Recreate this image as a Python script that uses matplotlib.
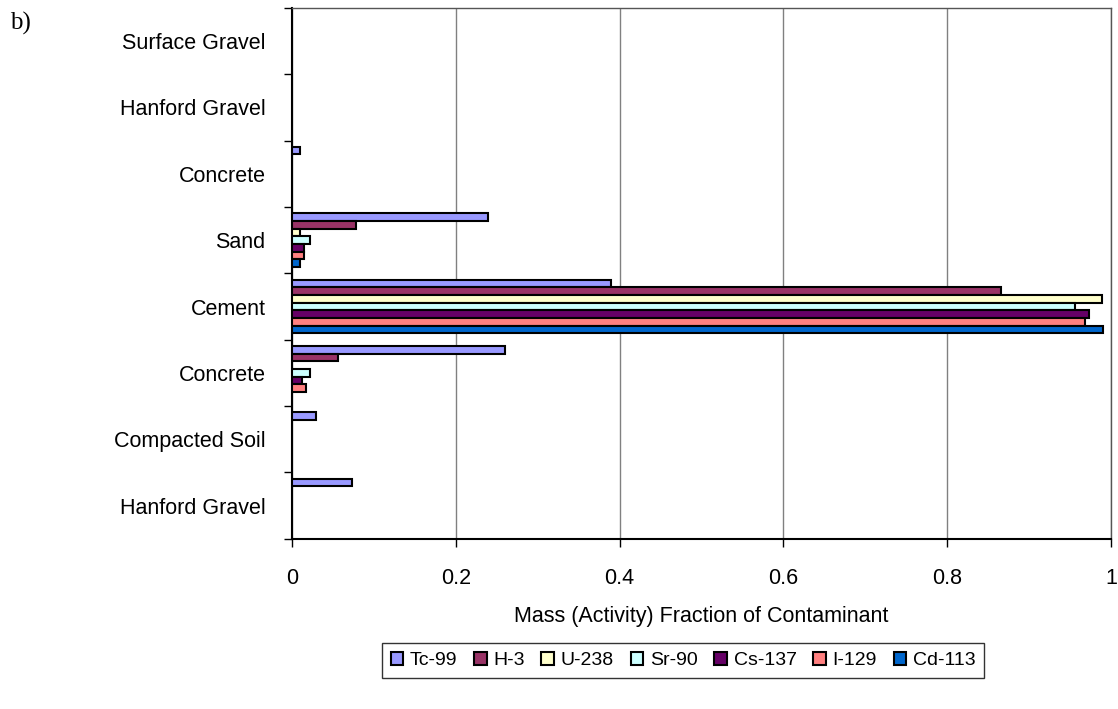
import matplotlib.pyplot as plt
import numpy as np

plt.rcParams['font.family'] = ['Liberation Sans', 'DejaVu Sans']

layers = ['Surface Gravel', 'Hanford Gravel', 'Concrete', 'Sand', 'Cement',
          'Concrete', 'Compacted Soil', 'Hanford Gravel']
species = ['Tc-99', 'H-3', 'U-238', 'Sr-90', 'Cs-137', 'I-129', 'Cd-113']
colors = ['#9999FF', '#993366', '#FFFFCC', '#CCFFFF', '#660066', '#FF8080', '#0066CC']

# fraction per layer (top to bottom), one list per species
tc99 = [0, 0, 0.01, 0.24, 0.39, 0.26, 0.029, 0.073]
h3 = [0, 0, 0, 0.078, 0.866, 0.056, 0, 0]
u238 = [0, 0, 0, 0.01, 0.989, 0, 0, 0]
sr90 = [0, 0, 0, 0.022, 0.956, 0.022, 0, 0]
cs137 = [0, 0, 0, 0.015, 0.973, 0.012, 0, 0]
i129 = [0, 0, 0, 0.015, 0.968, 0.017, 0, 0]
cd113 = [0, 0, 0, 0.01, 0.99, 0, 0, 0]
series = [tc99, h3, u238, sr90, cs137, i129, cd113]

fig = plt.figure(figsize=(11.18, 7.09), dpi=100)
ax = fig.add_axes([0.261, 0.240, 0.733, 0.749])

y = np.arange(len(layers))
h = 0.116
for j, (name, vals, c) in enumerate(zip(species, series, colors)):
    vals = np.array(vals)
    keep = vals > 0
    ax.barh(y[keep] + (j - 3) * h, vals[keep], height=h, color=c,
            edgecolor='black', linewidth=1.5, label=name, zorder=3)

ax.set_ylim(len(layers) - 0.5, -0.5)
ax.set_xlim(0, 1)
ax.set_yticks(y)
ax.set_yticklabels(layers, fontsize=15.5)
ax.set_yticks(np.arange(-0.5, len(layers), 1), minor=True)
ax.tick_params(axis='y', which='major', length=0, pad=19)
ax.tick_params(axis='y', which='minor', length=6, width=1, direction='out')
ax.set_xticks([0, 0.2, 0.4, 0.6, 0.8, 1])
ax.set_xticklabels(['0', '0.2', '0.4', '0.6', '0.8', '1'], fontsize=15.5)
ax.tick_params(axis='x', length=6, width=1, pad=15)
ax.grid(axis='x', color='#808080', linewidth=1, zorder=0)

for s in ['left', 'bottom']:
    ax.spines[s].set_color('black')
    ax.spines[s].set_linewidth(1.5)
for s in ['top', 'right']:
    ax.spines[s].set_color('#555555')
    ax.spines[s].set_linewidth(1)

ax.set_xlabel('Mass (Activity) Fraction of Contaminant', fontsize=15.5, labelpad=12)

fig.text(0.009, 0.958, 'b)', fontsize=18, family='Liberation Serif')

fig.legend(loc='center', bbox_to_anchor=(0.611, 0.068), ncol=7, fontsize=14,
           frameon=True, fancybox=False, edgecolor='black', handlelength=0.65,
           handleheight=0.65, handletextpad=0.35, columnspacing=0.85,
           borderpad=0.45)

fig.savefig('out.png', dpi=100)
